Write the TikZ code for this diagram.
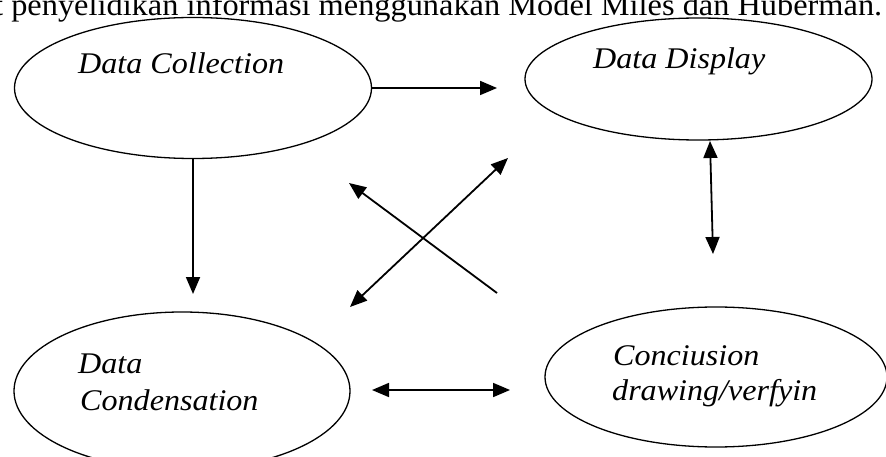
\documentclass[tikz,border=0pt]{standalone}
\usepackage{fontspec}
\setmainfont{Liberation Serif}
\usetikzlibrary{shapes.geometric,arrows.meta}
\newcommand{\sxtext}[1]{\scalebox{1.07}[1]{#1}}
\begin{document}
\begin{tikzpicture}[x=1pt,y=-1pt,
  oval/.style={draw,ellipse,line width=1.3pt,inner sep=0pt,outer sep=0pt},
  lbl/.style={font=\fontsize{30}{36}\selectfont\itshape,inner sep=0pt,anchor=base west},
  tip/.tip={Triangle[length=17pt,width=14pt]},
  arr/.style={line width=1.8pt,-tip},
  darr/.style={line width=1.8pt,tip-tip}]
\fill[white] (0,0) rectangle (886,457);
\useasboundingbox (0,0) rectangle (886,457);

% heading (cut off at the top, as in the source)
\node[inner sep=0pt,anchor=base west,font=\fontsize{31}{36}\selectfont] (head) at (-6,16)
  {\resizebox{888pt}{\height}{t penyelidikan informasi menggunakan Model Miles dan Huberman.}};

% ellipses
\node[oval,minimum width=357pt,minimum height=141pt] (col) at (193,88) {};
\node[oval,minimum width=347pt,minimum height=122pt] (disp) at (698.5,79) {};
\node[oval,minimum width=336pt,minimum height=158pt] (cond) at (182,391) {};
\node[oval,minimum width=342pt,minimum height=140pt] (conc) at (716,377) {};

% labels
\node[lbl] (colT) at (78,74) {\sxtext{Data Collection}};
\node[lbl] (dispT) at (593,69) {\sxtext{Data Display}};
\node[lbl] (condT1) at (78,373) {\sxtext{Data}};
\node[lbl] (condT2) at (80,410) {\sxtext{Condensation}};
\node[lbl] (concT1) at (613,365) {\sxtext{Conciusion}};
\node[lbl] (concT2) at (612,400) {\sxtext{drawing/verfyin}};

% arrow end points
\coordinate (p1) at (497,88);
\coordinate (p2) at (193,294);
\coordinate (p3a) at (710,141);
\coordinate (p3b) at (713,254);
\coordinate (p4a) at (372,390);
\coordinate (p4b) at (510,390);
\coordinate (p5a) at (350,307);
\coordinate (p5b) at (508,158);
\coordinate (p6a) at (497,293);
\coordinate (p6b) at (349,183);

% connectors
\draw[arr] (col.east) -- (p1);
\draw[arr] (col.south) -- (p2);
\draw[darr] (p3b) -- (p3a);
\draw[darr] (p4a) -- (p4b);
\draw[darr] (p5a) -- (p5b);
\draw[arr] (p6a) -- (p6b);
\end{tikzpicture}
\end{document}
